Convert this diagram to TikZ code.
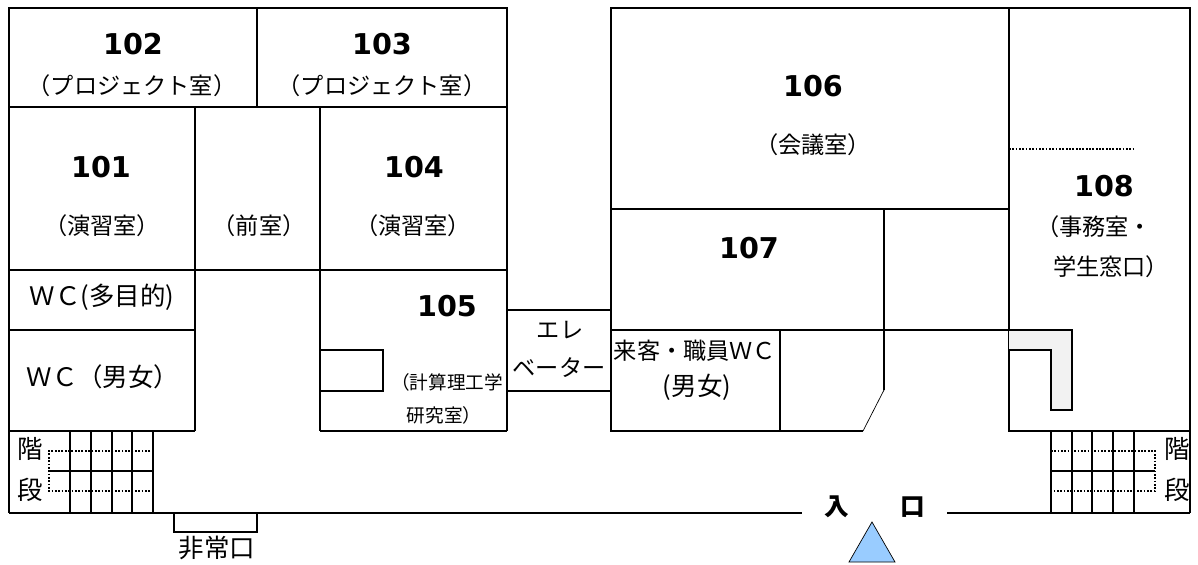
\documentclass[tikz,border=0pt]{standalone}
\usepackage{fontspec}
\usepackage{xcolor}
\setmainfont{Noto Sans CJK JP}
\newfontfamily\numfont{DejaVu Sans}
\definecolor{entrance}{RGB}{153,204,255}
\tikzset{
  wall/.style={line width=1.3pt},
  hidden/.style={line width=1.1pt,dash pattern=on 1pt off 0.9pt},
  num/.style={inner sep=0pt,font=\numfont\bfseries\fontsize{16.3}{18}\selectfont},
  room/.style={inner sep=0pt,font=\fontsize{13.2}{15}\selectfont},
  big/.style={inner sep=0pt,font=\fontsize{14.5}{16}\selectfont},
  small/.style={inner sep=0pt,font=\fontsize{10.6}{12}\selectfont},
  door/.style={inner sep=0pt,font=\bfseries\fontsize{14}{16}\selectfont}
}
\begin{document}
\begin{tikzpicture}[x=0.02cm,y=-0.02cm]
      \useasboundingbox (0,0) rectangle (1198,565);
      % left block
      \draw [wall] (9,8) rectangle (507,107);
      \draw [wall] (257,8) -- (257,107);
      \draw [wall] (9,107) -- (9,513);
      \draw [wall] (195,107) -- (195,431);
      \draw [wall] (320,107) -- (320,431);
      \draw [wall] (507,107) -- (507,431);
      \draw [wall] (9,270) -- (507,270);
      \draw [wall] (9,330) -- (195,330);
      \draw [wall] (9,431) -- (195,431);
      \draw [wall] (320,431) -- (507,431);
      \draw [wall] (320,350) -- (383,350) -- (383,391) -- (320,391);
      % lift
      \draw [wall] (507,310) -- (611,310);
      \draw [wall] (507,391) -- (611,391);
      % right block
      \draw [wall] (863,431) -- (611,431) -- (611,8) -- (1190,8) -- (1190,513);
      \draw [wall] (1009,8) -- (1009,431) -- (1190,431);
      \draw [wall] (611,209) -- (1009,209);
      \draw [wall] (884,209) -- (884,390);
      \draw (884,390) -- (863,431);
      \draw [wall] (611,330) -- (1009,330);
      \draw [wall] (780,330) -- (780,431);
      \draw [hidden] (1009,149) -- (1134,149);
      \draw [wall,fill=black!5] (1009,330) -- (1072,330) -- (1072,410) -- (1051,410) -- (1051,350) -- (1009,350);
      % stairs
      \foreach \x in {70,91,112,132,153} {
        \draw [wall] (\x,431) -- (\x,513);
      }
      \foreach \x in {1051,1072,1092,1113,1134} {
        \draw [wall] (\x,431) -- (\x,513);
      }
      \draw [wall] (49,471) -- (153,471);
      \draw [wall] (1051,471) -- (1155,471);
      \draw [hidden] (150,451) -- (49,451) -- (49,491) -- (150,491);
      \draw [hidden] (1051,451) -- (1155,451) -- (1155,491) -- (1051,491);
      % outside wall
      \draw [wall] (9,513) -- (802,513);
      \draw [wall] (947,513) -- (1190,513);
      \draw [wall] (174,513) -- (174,532) -- (257,532) -- (257,513);
      \draw [fill=entrance] (872,522) -- (895,562) -- (849,562) -- cycle;
      % labels
      \node (n102) at (133,44) [num] {102};
      \node (t102) at (132,86) [room] {（プロジェクト室）};
      \node (n103) at (382,44) [num] {103};
      \node (t103) at (382,86) [room] {（プロジェクト室）};
      \node (n101) at (101,167) [num] {101};
      \node (t101) at (102,226) [room] {（演習室）};
      \node (front) at (259,226) [room] {（前室）};
      \node (n104) at (414,167) [num] {104};
      \node (t104) at (413,226) [room] {（演習室）};
      \node (n105) at (447,306) [num] {105};
      \node (t105a) at (447,382) [small] {（計算理工学};
      \node (t105b) at (444,415) [small] {研究室）};
      \node (n106) at (813,86) [num] {106};
      \node (t106) at (813,145) [room] {（会議室）};
      \node (n107) at (749,248) [num] {107};
      \node (n108) at (1104,186) [num] {108};
      \node (t108a) at (1094,227) [room] {（事務室・};
      \node (t108b) at (1111,267) [room] {学生窓口）};
      \node (wca) at (102,297) [big] {ＷＣ(多目的)};
      \node (wcb) at (103,377) [big] {ＷＣ（男女）};
      \node (lifta) at (560,330) [room] {エレ};
      \node (liftb) at (559,368) [room] {ベーター};
      \node (wcc) at (695,351) [room] {来客・職員ＷＣ};
      \node (wcd) at (697,387) [big] {(男女)};
      \node (stla) at (30,449) [big] {階};
      \node (stlb) at (30,490) [big] {段};
      \node (stra) at (1177,449) [big] {階};
      \node (strb) at (1177,490) [big] {段};
      \node (exit) at (217,548) [big] {非常口};
      \node (ina) at (837,507) [door] {入};
      \node (inb) at (913,507) [door] {口};
    \end{tikzpicture}
\end{document}
